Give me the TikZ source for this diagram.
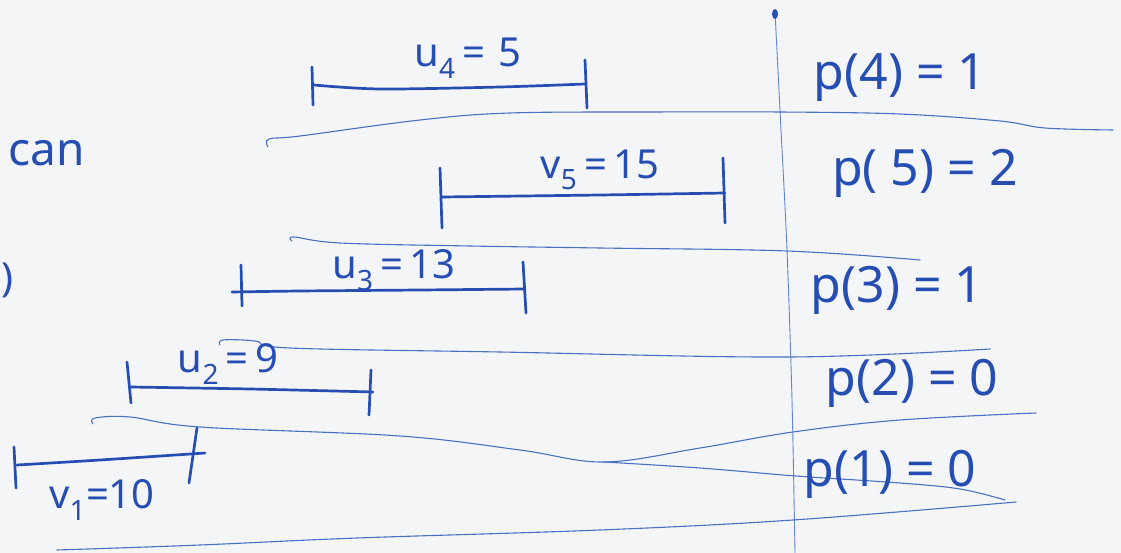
\documentclass[tikz,border=0pt]{standalone}
\usepackage{fontspec}
\setmainfont{Noto Sans}
\definecolor{ink}{RGB}{38,78,178}
\definecolor{rulec}{RGB}{72,112,196}
\definecolor{paper}{RGB}{244,245,247}
\tikzset{
  bar/.style={draw=ink, line width=2.7pt, line cap=round, line join=round},
  sep/.style={draw=rulec, line width=1.1pt, line cap=round},
  vline/.style={draw=rulec!85!white, line width=0.9pt},
  lbl/.style={text=ink, font=\fontsize{40}{46}\selectfont, inner sep=0pt},
  plbl/.style={text=ink, font=\fontsize{50}{56}\selectfont, inner sep=0pt}
}
\begin{document}
\begin{tikzpicture}[x=1pt,y=-1pt]
\fill[paper] (0,0) rectangle (1121,553);
\useasboundingbox (0,0) rectangle (1121,553);
% vertical divider
\draw[vline] plot[smooth] coordinates {(775,12) (781,130) (787,250) (792,400) (795,553)};
\fill[ink] (775,14) ellipse (3 and 5);
% separator lines
\draw[sep] plot[smooth, tension=0.6] coordinates {(268,147) (269,139) (300,136) (420,120) (510,113) (650,112) (780,112) (900,114) (1000,121) (1045,128) (1113,130)};
\draw[sep] plot[smooth, tension=0.6] coordinates {(292,241) (294,237) (340,243) (470,246) (600,248) (787,251) (920,260)};
\draw[sep] plot[smooth, tension=0.6] coordinates {(220,345) (223,340) (255,341) (290,348) (500,352) (790,357) (990,349)};
\draw[sep] plot[smooth, tension=0.6] coordinates {(93,424) (95,418) (130,417) (200,427) (400,436) (520,450) (604,462) (700,448) (793,432) (900,420) (1036,413)};
\draw[sep] plot[smooth, tension=0.6] coordinates {(604,462) (700,468) (796,476) (900,483) (960,489) (1005,500)};
\draw[sep] plot[smooth, tension=0.6] coordinates {(57,550) (200,545) (357,538) (600,530) (793,520) (1016,502)};
% bar 4
\draw[bar] (312,67) -- (313,105);
\draw[bar] plot[smooth] coordinates {(314,85) (380,89) (500,87) (585,84)};
\draw[bar] (585,60) -- (587,108);
% bar 5
\draw[bar] (440,168) -- (442,228);
\draw[bar] plot[smooth] coordinates {(442,197) (600,195) (725,193)};
\draw[bar] (723,158) -- (725,223);
% bar 3
\draw[bar] (241,265) -- (242,306);
\draw[bar] plot[smooth] coordinates {(232,292) (300,291) (420,290) (525,289)};
\draw[bar] (523,262) -- (526,313);
% bar 2
\draw[bar] (127,362) -- (131,403);
\draw[bar] plot[smooth] coordinates {(130,387) (250,389) (373,392)};
\draw[bar] (371,370) -- (369,415);
% bar 1
\draw[bar] (14,447) -- (16,488);
\draw[bar] plot[smooth] coordinates {(17,465) (100,460) (205,453)};
\draw[bar] (197,428) -- (189,483);
% labels
\node[lbl] (l4) at (468,58) {u\textsubscript{4}\,=\,\,5};
\node[lbl] (l5) at (600,170) {v\textsubscript{5}\,=\,15};
\node[lbl] (l3) at (394,270) {u\textsubscript{3}\,=\,13};
\node[lbl] (l2) at (228,364) {u\textsubscript{2}\,=\,9};
\node[lbl] (l1) at (102,500) {v\textsubscript{1}=10};
\node[plbl] (p4) at (900,78) {p(4) = 1};
\node[plbl] (p5) at (925,173) {p( 5) = 2};
\node[plbl] (p3) at (897,290) {p(3) = 1};
\node[plbl] (p2) at (912,383) {p(2) = 0};
\node[plbl] (p1) at (890,474) {p(1) = 0};
\node[lbl, font=\fontsize{46}{52}\selectfont] (can) at (47,153) {can};
\node[lbl, anchor=west] (paren) at (1,280) {)};
\end{tikzpicture}
\end{document}
